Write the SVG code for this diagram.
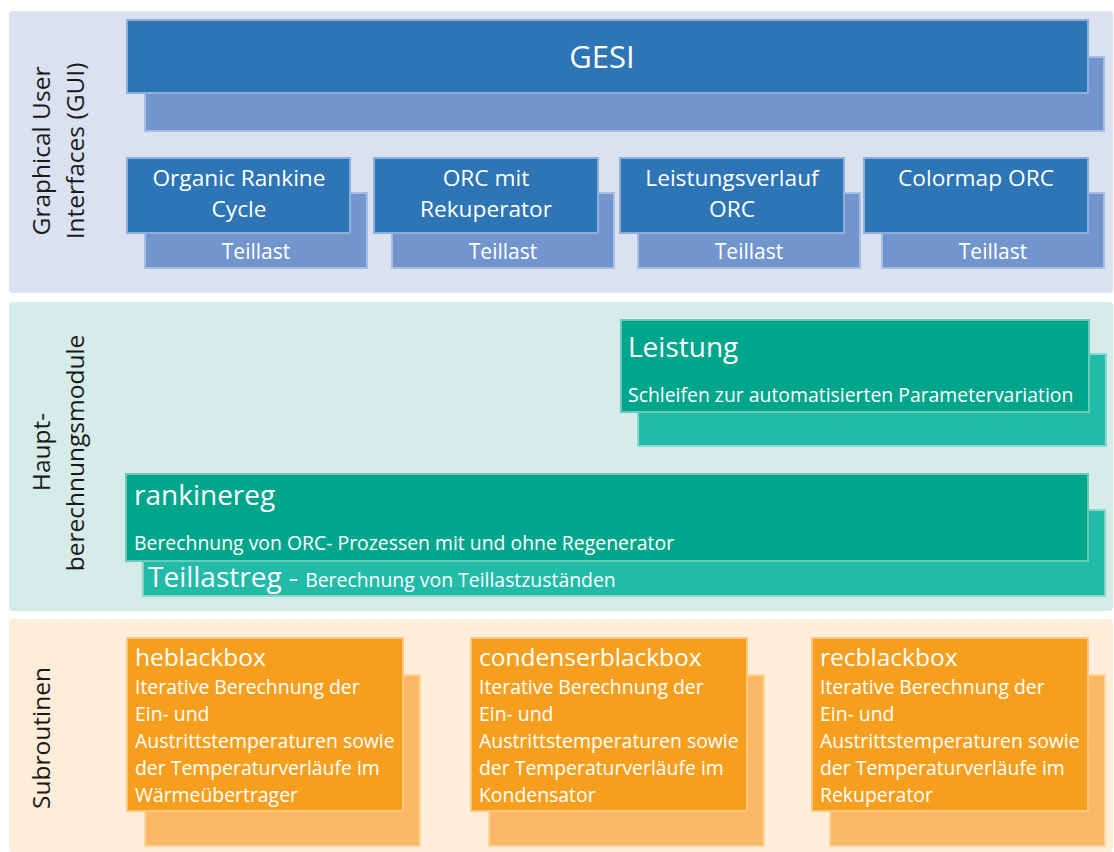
<svg xmlns="http://www.w3.org/2000/svg" width="1114" height="852" viewBox="0 0 1114 852">
<style>
text{font-family:"Open Sans",Lato,"Liberation Sans",sans-serif;fill:#fff}
.lbl{fill:#1a1a1a;font-size:24.5px;text-anchor:middle}
.bf{fill:#2E75B6;stroke:#8FAEDB;stroke-width:2}
.bb{fill:#7195CC;stroke:#A7BDE3;stroke-width:2}
.tf{fill:#00A68C;stroke:#6CC8B8;stroke-width:2}
.tb{fill:#22BBA8;stroke:#8AD6CA;stroke-width:2}
.of{fill:#F69F1F;stroke:#FAC880;stroke-width:2}
.ob{fill:#FAB864;stroke:#FCD49D;stroke-width:2}
.gt{font-size:22.7px;text-anchor:middle}
.tl{font-size:21px;text-anchor:middle}
.big{font-size:28px}
.sm{font-size:19.4px}
.ot{font-size:24.5px}
</style>
<rect x="9" y="11" width="1104" height="282" rx="4" fill="#DAE2F2"/>
<rect x="9" y="302" width="1104" height="309" rx="4" fill="#D6ECE8"/>
<rect x="9" y="619" width="1104" height="233" rx="4" fill="#FDEDD9"/>
<g id="label-gui">
<text class="lbl" transform="translate(50,151) rotate(-90)">Graphical User</text>
<text class="lbl" transform="translate(84,151) rotate(-90)">Interfaces (GUI)</text>
</g>
<g id="label-haupt">
<text class="lbl" transform="translate(50,452) rotate(-90)">Haupt-</text>
<text class="lbl" transform="translate(84,453) rotate(-90)">berechnungsmodule</text>
</g>
<g id="label-sub">
<text class="lbl" transform="translate(50,738) rotate(-90)">Subroutinen</text>
</g>
<g id="gesi">
<rect class="bb" x="145" y="57" width="959" height="74"/>
<rect class="bf" x="127" y="20" width="961" height="73"/>
<text x="602" y="68" text-anchor="middle" style="font-size:31px">GESI</text>
</g>
<g id="orc">
<rect class="bb" x="145" y="193" width="222" height="75"/>
<rect class="bf" x="127" y="158" width="223" height="75"/>
<text class="gt" x="239" y="186">Organic Rankine</text>
<text class="gt" x="239" y="217">Cycle</text>
<text class="tl" x="256" y="259">Teillast</text>
</g>
<g id="orc-rek">
<rect class="bb" x="392" y="193" width="222" height="75"/>
<rect class="bf" x="374" y="158" width="224" height="75"/>
<text class="gt" x="486" y="186">ORC mit</text>
<text class="gt" x="486" y="217">Rekuperator</text>
<text class="tl" x="503" y="259">Teillast</text>
</g>
<g id="leistungsverlauf">
<rect class="bb" x="638" y="193" width="222" height="75"/>
<rect class="bf" x="620" y="158" width="224" height="75"/>
<text class="gt" x="732" y="186">Leistungsverlauf</text>
<text class="gt" x="732" y="217">ORC</text>
<text class="tl" x="749" y="259">Teillast</text>
</g>
<g id="colormap">
<rect class="bb" x="882" y="193" width="222" height="75"/>
<rect class="bf" x="864" y="158" width="224" height="75"/>
<text class="gt" x="976" y="186">Colormap ORC</text>
<text class="tl" x="993" y="259">Teillast</text>
</g>
<g id="leistung">
<rect class="tb" x="638" y="354" width="468" height="92"/>
<rect class="tf" x="621" y="320" width="468" height="92"/>
<text class="big" x="628" y="357">Leistung</text>
<text class="sm" x="628" y="402">Schleifen zur automatisierten Parametervariation</text>
</g>
<g id="rankinereg">
<rect class="tb" x="143" y="510" width="962" height="86"/>
<rect class="tf" x="126" y="474" width="962" height="87"/>
<text class="big" x="134" y="505">rankinereg</text>
<text class="sm" x="134" y="550">Berechnung von ORC- Prozessen mit und ohne Regenerator</text>
<text x="148" y="587"><tspan class="big">Teillastreg - </tspan><tspan class="sm">Berechnung von Teillastzuständen</tspan></text>
</g>
<g id="heblackbox">
<rect class="ob" x="145" y="675" width="275" height="171"/>
<rect class="of" x="127" y="638" width="276" height="173"/>
<text class="ot" x="135" y="666">heblackbox</text>
<text class="sm" x="135" y="694">Iterative Berechnung der</text>
<text class="sm" x="135" y="721">Ein- und</text>
<text class="sm" x="135" y="748">Austrittstemperaturen sowie</text>
<text class="sm" x="135" y="775">der Temperaturverläufe im</text>
<text class="sm" x="135" y="802">Wärmeübertrager</text>
</g>
<g id="condenserblackbox">
<rect class="ob" x="489" y="675" width="275" height="171"/>
<rect class="of" x="471" y="638" width="276" height="173"/>
<text class="ot" x="479" y="666">condenserblackbox</text>
<text class="sm" x="479" y="694">Iterative Berechnung der</text>
<text class="sm" x="479" y="721">Ein- und</text>
<text class="sm" x="479" y="748">Austrittstemperaturen sowie</text>
<text class="sm" x="479" y="775">der Temperaturverläufe im</text>
<text class="sm" x="479" y="802">Kondensator</text>
</g>
<g id="recblackbox">
<rect class="ob" x="830" y="675" width="275" height="171"/>
<rect class="of" x="812" y="638" width="276" height="173"/>
<text class="ot" x="820" y="666">recblackbox</text>
<text class="sm" x="820" y="694">Iterative Berechnung der</text>
<text class="sm" x="820" y="721">Ein- und</text>
<text class="sm" x="820" y="748">Austrittstemperaturen sowie</text>
<text class="sm" x="820" y="775">der Temperaturverläufe im</text>
<text class="sm" x="820" y="802">Rekuperator</text>
</g>
<g id="connectors"></g>
</svg>
